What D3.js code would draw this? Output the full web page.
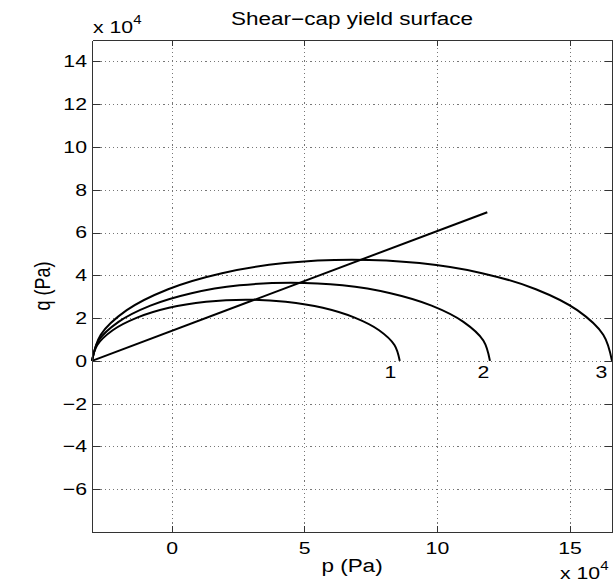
<!DOCTYPE html>
<html>
<head>
<meta charset="utf-8">
<script src="https://cdn.jsdelivr.net/npm/d3@7"></script>
<style>
  body { margin: 0; background: #fff; }
  svg text { font-family: "Liberation Sans", Arial, sans-serif; fill: #000; }
</style>
</head>
<body>
<div id="chart"></div>
<script>
// all values in units of 1e4 Pa
var xDomain = [-3, 16.6];
var yDomain = [-8, 15];
var xTicks = [0, 5, 10, 15];
var xTickLabels = ["0", "5", "10", "15"];
var yTicks = [-6, -4, -2, 0, 2, 4, 6, 8, 10, 12, 14];
var yTickLabels = ["\u22126", "\u22124", "\u22122", "0", "2", "4", "6", "8", "10", "12", "14"];

// cap curves, [p, q]
var cap1 = [[-3.0, 0], [-2.8, 0.74], [-2.22, 1.43], [-1.3, 2.02], [-0.1, 2.48], [1.3, 2.76], [2.8, 2.86],
            [4.3, 2.76], [5.7, 2.48], [6.9, 2.02], [7.82, 1.43], [8.4, 0.74], [8.6, 0]];
var cap2 = [[-3.0, 0], [-2.75, 0.95], [-2.0, 1.82], [-0.8, 2.58], [0.75, 3.16], [2.56, 3.53], [4.5, 3.65],
            [6.44, 3.53], [8.25, 3.16], [9.8, 2.58], [11.0, 1.82], [11.75, 0.95], [12.0, 0]];
var cap3 = [[-3.0, 0], [-2.67, 1.22], [-1.69, 2.37], [-0.13, 3.35], [1.9, 4.1], [4.26, 4.57], [6.8, 4.73],
            [9.34, 4.57], [11.7, 4.1], [13.73, 3.35], [15.29, 2.37], [16.27, 1.22], [16.6, 0]];
// shear line
var shearLine = [[-3.0, 0], [11.9, 6.95]];

var capLabels = ["1", "2", "3"];
var capLabelP = [8.25, 11.75, 16.2];
var capLabelQ = [-0.5, -0.5, -0.5];

var W = 614, H = 583;
var margin = {top: 40, right: 2, bottom: 51, left: 92};
var STRETCH = 1.25; // text in the figure is wider than it is tall

var svg = d3.select("#chart").append("svg")
    .attr("width", W)
    .attr("height", H);

var x = d3.scaleLinear().domain(xDomain).range([margin.left, W - margin.right]);
var y = d3.scaleLinear().domain(yDomain).range([H - margin.bottom, margin.top]);
var plotTop = margin.top, plotBottom = H - margin.bottom,
    plotLeft = margin.left, plotRight = W - margin.right;

// grid
var grid = svg.append("g").attr("class", "grid");
grid.append("g")
    .attr("transform", "translate(0," + plotBottom + ")")
    .call(d3.axisBottom(x).tickValues(xTicks).tickSize(-(plotBottom - plotTop)).tickFormat(""));
grid.append("g")
    .attr("transform", "translate(" + plotLeft + ",0)")
    .call(d3.axisLeft(y).tickValues(yTicks).tickSize(-(plotRight - plotLeft)).tickFormat(""));
grid.selectAll(".domain").remove();
grid.selectAll("line")
    .attr("stroke", "#777")
    .attr("stroke-width", 1)
    .attr("stroke-dasharray", "1.2,3");

// curves
var line = d3.line()
    .x(function (d) { return x(d[0]); })
    .y(function (d) { return y(d[1]); })
    .curve(d3.curveCatmullRom.alpha(0.5));

svg.selectAll(".cap")
    .data([cap1, cap2, cap3])
    .enter().append("path")
    .attr("class", "cap")
    .attr("d", line)
    .attr("fill", "none")
    .attr("stroke", "#000")
    .attr("stroke-width", 2);

svg.append("path")
    .datum(shearLine)
    .attr("d", d3.line().x(function (d) { return x(d[0]); }).y(function (d) { return y(d[1]); }))
    .attr("fill", "none")
    .attr("stroke", "#000")
    .attr("stroke-width", 2);

function wideText(px, py, str, size, anchor, rot) {
    return svg.append("text")
        .attr("transform", "translate(" + px + "," + py + ") scale(" + STRETCH + ",1)" + (rot ? " rotate(" + rot + ")" : ""))
        .attr("text-anchor", anchor)
        .style("font-size", size + "px")
        .text(str);
}

capLabels.forEach(function (s, i) {
    wideText(x(capLabelP[i]), y(capLabelQ[i]), s, 17, "middle").attr("dy", "0.35em");
});

// frame with inward ticks
var AXIS_COLOR = "#333";
function frame(g) {
    g.selectAll(".domain").attr("stroke", AXIS_COLOR);
    g.selectAll(".tick line").attr("stroke", AXIS_COLOR);
    g.selectAll("text").style("font-size", "17px");
}

var xAxis = svg.append("g")
    .attr("transform", "translate(0," + plotBottom + ")")
    .call(d3.axisBottom(x).tickValues(xTicks).tickSizeInner(-6).tickSizeOuter(0).tickPadding(10)
        .tickFormat(function (d) { return xTickLabels[xTicks.indexOf(d)]; }))
    .call(frame);
xAxis.selectAll("text").attr("transform", "scale(" + STRETCH + ",1)");

svg.append("g")
    .attr("transform", "translate(0," + plotTop + ")")
    .call(d3.axisTop(x).tickValues(xTicks).tickSizeInner(-6).tickSizeOuter(0).tickFormat(""))
    .call(frame);

var yAxis = svg.append("g")
    .attr("transform", "translate(" + plotLeft + ",0)")
    .call(d3.axisLeft(y).tickValues(yTicks).tickSizeInner(-7.5).tickSizeOuter(0).tickPadding(4)
        .tickFormat(function (d) { return yTickLabels[yTicks.indexOf(d)]; }))
    .call(frame);
yAxis.selectAll("text").attr("transform", "scale(" + STRETCH + ",1)");

svg.append("g")
    .attr("transform", "translate(" + plotRight + ",0)")
    .call(d3.axisRight(y).tickValues(yTicks).tickSizeInner(-7.5).tickSizeOuter(0).tickFormat(""))
    .call(frame);

svg.selectAll(".domain, .tick line").attr("shape-rendering", "crispEdges");

// titles and labels
wideText((plotLeft + plotRight) / 2, 25, "Shear\u2212cap yield surface", 18, "middle");
wideText((plotLeft + plotRight) / 2, 572, "p (Pa)", 18, "middle");
wideText(50, (plotTop + plotBottom) / 2, "q (Pa)", 18, "middle", -90);

function multiplier(px, py) {
    var t = wideText(px, py, "x 10", 17, "start");
    t.append("tspan").attr("dy", -9).style("font-size", "12px").text("4");
}
multiplier(93, 33);
multiplier(560, 579);
</script>
</body>
</html>
